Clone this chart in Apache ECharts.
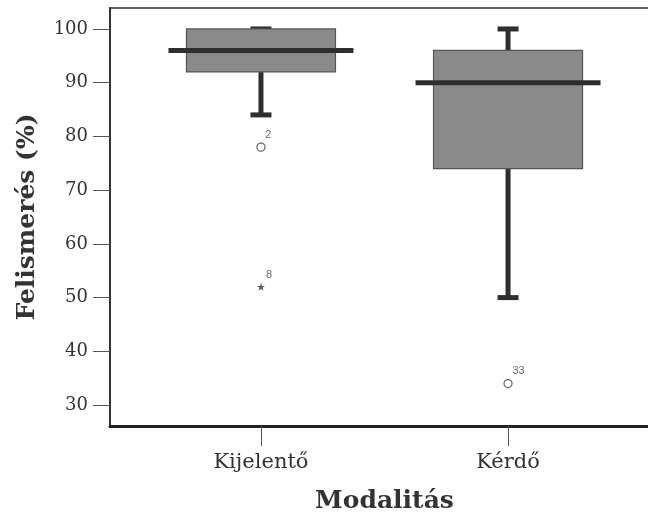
<!DOCTYPE html>
<html>
<head>
<meta charset="utf-8">
<script src="https://cdn.jsdelivr.net/npm/echarts@6/dist/echarts.min.js"></script>
<style>
html,body{margin:0;padding:0;background:#fff;}
#chart{width:648px;height:517px;}
</style>
</head>
<body>
<div id="chart"></div>
<script>
// ---- data ----
const categories = ['Kijelentő', 'Kérdő'];
const whiskerLow = [84, 50];
const q1 = [92, 74];
const median = [96, 90];
const q3 = [100, 96];
const whiskerHigh = [100, 100];

const outlierCategory = [0, 0, 1];
const outlierValues = [78, 52, 34];
const outlierLabels = ['2', '8', '33'];
const outlierShapes = ['circle', 'star', 'circle'];

const yTicks = [30, 40, 50, 60, 70, 80, 90, 100];

// ---- build ----
const boxData = categories.map((c, i) => [i + 1, whiskerLow[i], q1[i], median[i], q3[i], whiskerHigh[i]]);
const starPath = 'path://M50,0 L61.8,35.1 L98.1,35.1 L68.8,56.8 L79.4,91.4 L50,70 L20.6,91.4 L31.2,56.8 L1.9,35.1 L38.2,35.1 Z';
const outlierData = outlierValues.map((v, k) => ({
  value: [outlierCategory[k] + 1, v],
  symbol: outlierShapes[k] === 'star' ? starPath : 'circle',
  symbolSize: 8,
  itemStyle: outlierShapes[k] === 'star'
    ? { color: '#333', borderWidth: 0 }
    : { color: '#fff', borderColor: '#444', borderWidth: 1.3 },
  label: { formatter: outlierLabels[k] }
}));

const DARK = '#2e2e2e';
const chart = echarts.init(document.getElementById('chart'), null, { renderer: 'canvas' });

chart.setOption({
  backgroundColor: '#fff',
  animation: false,
  grid: {
    left: 110, top: 8, width: 549, height: 418,
    outerBoundsMode: 'none',
    containLabel: false,
    show: true, borderColor: '#606060', borderWidth: 2, backgroundColor: 'transparent'
  },
  xAxis: {
    type: 'value',
    min: 0.389, max: 2.611,
    splitLine: { show: false },
    axisLine: { show: true, onZero: false, lineStyle: { color: '#222', width: 3 } },
    axisTick: { show: true, customValues: [1, 2], length: 20, lineStyle: { color: '#555', width: 1 } },
    axisLabel: {
      customValues: [1, 2],
      formatter: v => categories[Math.round(v) - 1] || '',
      margin: 26,
      fontFamily: 'DejaVu Serif', fontSize: 21, color: '#333'
    },
    name: 'Modalitás',
    nameLocation: 'middle',
    nameGap: 63,
    nameTextStyle: { fontFamily: 'DejaVu Serif', fontWeight: 'bold', fontSize: 25, color: '#333' }
  },
  yAxis: {
    type: 'value',
    min: 26.1, max: 103.9,
    splitLine: { show: false },
    axisLine: { show: true, onZero: false, lineStyle: { color: '#333', width: 2 } },
    axisTick: { show: true, customValues: yTicks, length: 17, lineStyle: { color: '#555', width: 1 } },
    axisLabel: {
      customValues: yTicks,
      margin: 22,
      fontFamily: 'DejaVu Serif', fontSize: 18, color: '#333'
    },
    name: 'Felismerés (%)',
    nameLocation: 'middle',
    nameGap: 70,
    nameTextStyle: { fontFamily: 'DejaVu Serif', fontWeight: 'bold', fontSize: 25, color: '#333' }
  },
  series: [
    {
      type: 'custom',
      data: boxData,
      encode: { x: 0, y: [1, 2, 3, 4, 5] },
      renderItem: function (params, api) {
        const x = api.value(0);
        const pLow = api.coord([x, api.value(1)]);
        const pQ1 = api.coord([x, api.value(2)]);
        const pMed = api.coord([x, api.value(3)]);
        const pQ3 = api.coord([x, api.value(4)]);
        const pHigh = api.coord([x, api.value(5)]);
        const cx = pQ1[0];
        const boxHalf = 74.5, medHalf = 92.5, capHalf = 10.5;
        const lineStyle = { stroke: DARK, lineWidth: 5 };
        return {
          type: 'group',
          children: [
            { type: 'line', shape: { x1: cx, y1: pQ3[1], x2: cx, y2: pHigh[1] }, style: lineStyle },
            { type: 'line', shape: { x1: cx, y1: pQ1[1], x2: cx, y2: pLow[1] }, style: lineStyle },
            { type: 'line', shape: { x1: cx - capHalf, y1: pHigh[1], x2: cx + capHalf, y2: pHigh[1] }, style: lineStyle },
            { type: 'line', shape: { x1: cx - capHalf, y1: pLow[1], x2: cx + capHalf, y2: pLow[1] }, style: lineStyle },
            { type: 'rect', shape: { x: cx - boxHalf, y: pQ3[1], width: boxHalf * 2, height: pQ1[1] - pQ3[1] },
              style: { fill: '#8a8a8a', stroke: '#555', lineWidth: 1.2 } },
            { type: 'line', shape: { x1: cx - medHalf, y1: pMed[1], x2: cx + medHalf, y2: pMed[1] }, style: lineStyle }
          ]
        };
      },
      z: 2
    },
    {
      type: 'scatter',
      data: outlierData,
      z: 3,
      label: {
        show: true,
        position: [9, -13],
        fontFamily: 'Liberation Sans', fontSize: 11, color: '#444'
      }
    }
  ]
});
</script>
</body>
</html>
